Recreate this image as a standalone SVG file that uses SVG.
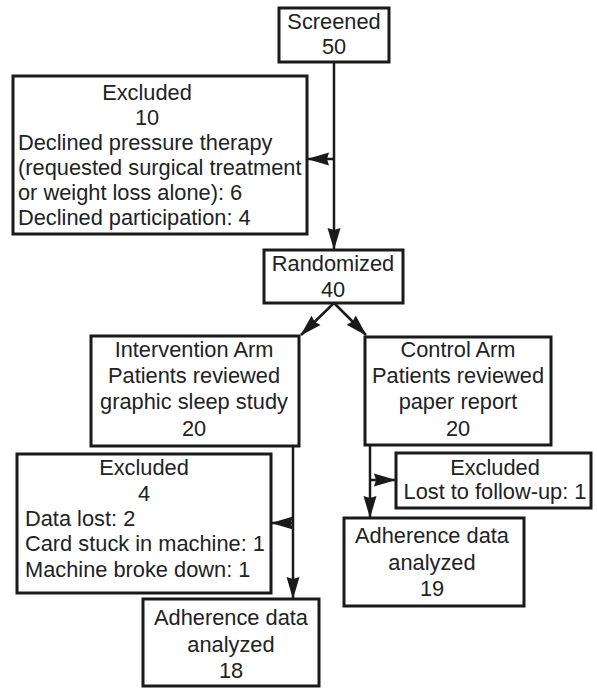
<svg xmlns="http://www.w3.org/2000/svg" width="597" height="688" viewBox="0 0 597 688">
<style>
.box{fill:#fff;stroke:#1a1a1a;stroke-width:3}
.t{font-family:"Liberation Sans",Arial,sans-serif;font-size:21.8px;fill:#222}
.c{text-anchor:middle}
.ln{stroke:#1a1a1a;stroke-width:2.5;fill:none}
</style>
<defs>
<marker id="ah" markerUnits="userSpaceOnUse" markerWidth="22" markerHeight="14" refX="21" refY="7" orient="auto">
<path d="M0,0.5 L22,7 L0,13.5 L2,7 z" fill="#1a1a1a"/>
</marker>
</defs>
<rect width="597" height="688" fill="#fff"/>
<g id="connectors">
<line class="ln" x1="334" y1="62" x2="334" y2="249" marker-end="url(#ah)"/>
<line class="ln" x1="334" y1="159" x2="308" y2="159" marker-end="url(#ah)"/>
<line class="ln" x1="334" y1="303" x2="301" y2="335" marker-end="url(#ah)"/>
<line class="ln" x1="334" y1="303" x2="366" y2="335" marker-end="url(#ah)"/>
<line class="ln" x1="293" y1="446" x2="293" y2="598" marker-end="url(#ah)"/>
<line class="ln" x1="293" y1="523" x2="272" y2="523" marker-end="url(#ah)"/>
<line class="ln" x1="370" y1="445" x2="370" y2="517" marker-end="url(#ah)"/>
<line class="ln" x1="370" y1="480" x2="395" y2="480" marker-end="url(#ah)"/>
</g>
<g id="screened">
<rect class="box" x="279" y="8" width="110" height="54"/>
<text class="t c" x="334" y="29">Screened</text>
<text class="t c" x="334" y="54">50</text>
</g>
<g id="excluded1">
<rect class="box" x="13" y="76" width="294" height="158"/>
<text class="t c" x="147" y="100">Excluded</text>
<text class="t c" x="147" y="125">10</text>
<text class="t" x="18" y="150">Declined pressure therapy</text>
<text class="t" x="18" y="175">(requested surgical treatment</text>
<text class="t" x="18" y="200">or weight loss alone): 6</text>
<text class="t" x="18" y="225">Declined participation: 4</text>
</g>
<g id="randomized">
<rect class="box" x="264" y="250" width="139" height="53"/>
<text class="t c" x="333" y="271">Randomized</text>
<text class="t c" x="333" y="297">40</text>
</g>
<g id="intervention">
<rect class="box" x="91" y="336" width="208" height="110"/>
<text class="t c" x="194" y="357">Intervention Arm</text>
<text class="t c" x="194" y="383">Patients reviewed</text>
<text class="t c" x="194" y="409">graphic sleep study</text>
<text class="t c" x="194" y="436">20</text>
</g>
<g id="control">
<rect class="box" x="365" y="337" width="186" height="108"/>
<text class="t c" x="458" y="357">Control Arm</text>
<text class="t c" x="458" y="383">Patients reviewed</text>
<text class="t c" x="458" y="409">paper report</text>
<text class="t c" x="458" y="436">20</text>
</g>
<g id="excluded2">
<rect class="box" x="17" y="454" width="254" height="139"/>
<text class="t c" x="144" y="475">Excluded</text>
<text class="t c" x="144" y="501">4</text>
<text class="t" x="25" y="526">Data lost: 2</text>
<text class="t" x="25" y="551">Card stuck in machine: 1</text>
<text class="t" x="25" y="577">Machine broke down: 1</text>
</g>
<g id="excluded3">
<rect class="box" x="396" y="453" width="195" height="55"/>
<text class="t c" x="495" y="475">Excluded</text>
<text class="t c" x="495" y="499">Lost to follow-up: 1</text>
</g>
<g id="adherence19">
<rect class="box" x="344" y="518" width="180" height="88"/>
<text class="t c" x="432" y="543">Adherence data</text>
<text class="t c" x="432" y="570">analyzed</text>
<text class="t c" x="432" y="596">19</text>
</g>
<g id="adherence18">
<rect class="box" x="143" y="599" width="176" height="87"/>
<text class="t c" x="231" y="625">Adherence data</text>
<text class="t c" x="231" y="652">analyzed</text>
<text class="t c" x="231" y="678">18</text>
</g>
</svg>
